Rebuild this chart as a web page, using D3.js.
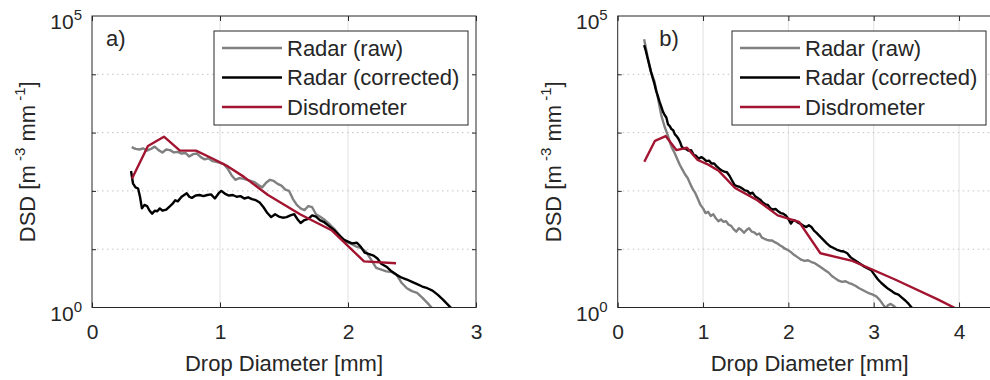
<!DOCTYPE html>
<html>
<head>
<meta charset="utf-8">
<script src="https://cdn.jsdelivr.net/npm/d3@7"></script>
<style>
  body { margin: 0; background: #fff; }
  svg text { font-family: "Liberation Sans", Arial, Helvetica, sans-serif; fill: #262626; }
</style>
</head>
<body>
<div class="chart-container"></div>
<script>
// ---- Data ----
const seriesNames = ['Radar (raw)', 'Radar (corrected)', 'Disdrometer'];
const seriesColors = ['#808080', '#000000', '#a2142f'];

const xTicksA = [0, 1, 2, 3];
const xTicksB = [0, 1, 2, 3, 4];
const yTicks = [1, 1e5];
const yMinorTicks = [10, 100, 1000, 10000];

// disdrometer bin centres [mm]
const disdroBins = [0.312, 0.437, 0.562, 0.687, 0.812, 0.937, 1.062, 1.187, 1.375, 1.625, 1.875, 2.125, 2.375, 2.75, 3.25, 3.75, 4.25];

// panel a)
const rawA_d = [0.31,0.34,0.37,0.40,0.43,0.46,0.49,0.52,0.55,0.58,0.61,0.64,0.67,0.70,0.73,0.76,0.79,0.82,0.85,0.88,
  0.91,0.94,0.97,1.00,1.03,1.06,1.09,1.12,1.15,1.18,1.21,1.24,1.27,1.30,1.33,1.36,1.39,1.42,1.45,1.48,
  1.51,1.54,1.57,1.60,1.63,1.66,1.69,1.72,1.75,1.78,1.82,1.86,1.90,1.94,1.98,2.02,2.06,2.10,2.14,2.18,
  2.22,2.26,2.30,2.34,2.38,2.42,2.46,2.50,2.54,2.58,2.62,2.66];
const rawA_n = [562,525,513,537,490,525,575,501,457,513,501,457,468,437,447,389,427,437,380,347,
  363,324,316,302,288,240,186,155,166,162,155,148,141,126,115,138,155,148,132,123,
  105,100,72.4,57.5,50.1,46.8,55.0,52.5,39.8,36.3,31.6,26.3,21.4,16.6,13.5,12.6,11.2,10.5,9.12,6.61,
  4.79,4.47,4.17,4.07,3.63,2.63,2.14,1.91,1.78,1.48,1.20,0.955];

const corrA_d = [0.305,0.32,0.34,0.36,0.375,0.39,0.41,0.43,0.45,0.47,0.49,0.51,0.53,0.55,0.58,0.61,0.63,0.65,0.67,0.70,
  0.72,0.74,0.76,0.78,0.81,0.84,0.87,0.90,0.93,0.96,0.99,1.01,1.04,1.07,1.10,1.13,1.16,1.19,1.22,1.25,
  1.28,1.31,1.34,1.37,1.40,1.43,1.46,1.49,1.52,1.55,1.58,1.61,1.63,1.66,1.69,1.72,1.75,1.78,1.81,1.85,
  1.89,1.93,1.97,2.00,2.03,2.07,2.10,2.13,2.16,2.20,2.23,2.26,2.30,2.34,2.38,2.42,2.46,2.50,2.54,2.58,
  2.62,2.66,2.70,2.74,2.78,2.81];
const corrA_n = [219,135,115,110,79.4,50.1,57.5,55.0,45.7,40.7,45.7,44.7,50.1,45.7,47.9,55.0,60.3,69.2,66.1,79.4,
  85.1,91.2,79.4,75.9,83.2,85.1,81.3,85.1,87.1,74.1,91.2,100,89.1,83.2,85.1,79.4,81.3,74.1,77.6,72.4,
  69.2,63.1,52.5,41.7,35.5,39.8,36.3,34.7,35.5,38.0,39.8,31.6,28.2,31.6,33.1,38.0,36.3,31.6,29.5,25.1,
  21.4,17.4,14.5,13.5,12.6,12.9,11.0,8.71,8.32,7.76,6.92,5.62,5.01,4.17,3.63,3.24,3.02,2.75,2.51,2.29,
  2.14,1.95,1.66,1.38,1.12,0.955];

const disdroA = [162,589,851,490,490,363,263,174,85.1,39.8,20.9,6.17,5.75];

// panel b)
const rawB_d = [0.31,0.33,0.35,0.37,0.39,0.41,0.43,0.45,0.47,0.49,0.51,0.53,0.55,0.57,0.59,0.61,0.63,0.65,0.67,
  0.70,0.73,0.76,0.79,0.82,0.85,0.88,0.91,0.94,0.97,1.00,1.03,1.06,1.09,1.12,1.15,1.18,1.21,1.24,1.27,
  1.30,1.33,1.36,1.39,1.42,1.45,1.48,1.51,1.54,1.57,1.60,1.63,1.66,1.69,1.72,1.75,1.78,1.81,1.84,1.87,
  1.90,1.93,1.96,1.99,2.03,2.07,2.11,2.15,2.19,2.23,2.27,2.31,2.35,2.39,2.43,2.47,2.51,2.55,2.59,2.63,
  2.67,2.71,2.75,2.79,2.83,2.87,2.91,2.95,2.99,3.03,3.07,3.11,3.14,3.17,3.20,3.24,3.27];
const rawB_n = [39800,28200,20000,14800,11000,9120,7590,5500,3980,2820,2000,1580,1260,1050,871,692,575,501,437,
  347,275,229,191,166,132,107,91.2,72.4,57.5,50.1,41.7,43.7,37.2,39.8,33.9,30.2,32.4,29.5,30.2,
  26.3,25.1,21.9,20.0,22.9,21.4,19.1,21.4,22.9,20.0,19.5,17.8,18.6,15.8,15.1,14.5,14.1,14.1,13.2,12.6,
  11.7,11.0,10.2,9.77,8.91,7.94,7.24,6.61,6.31,6.46,6.03,5.75,5.25,4.79,4.37,3.98,3.47,3.16,2.88,2.75,
  2.82,2.63,2.51,2.34,2.14,2.00,1.86,1.74,1.66,1.55,1.35,1.12,0.977,1.10,1.15,1.05,0.955];

const corrB_d = [0.31,0.33,0.35,0.37,0.39,0.41,0.43,0.45,0.47,0.49,0.51,0.53,0.55,0.57,0.59,0.61,0.63,0.65,0.67,0.69,
  0.71,0.73,0.75,0.77,0.80,0.83,0.86,0.89,0.92,0.95,0.98,1.01,1.04,1.07,1.10,1.13,1.16,1.19,1.22,1.25,
  1.28,1.31,1.34,1.37,1.40,1.43,1.46,1.49,1.52,1.55,1.58,1.61,1.64,1.67,1.70,1.73,1.76,1.79,1.82,1.85,
  1.88,1.91,1.94,1.97,2.00,2.03,2.06,2.09,2.12,2.15,2.18,2.21,2.24,2.27,2.30,2.33,2.37,2.41,2.45,2.49,
  2.53,2.57,2.61,2.65,2.69,2.73,2.77,2.81,2.85,2.89,2.93,2.97,3.01,3.05,3.09,3.13,3.17,3.21,3.25,3.29,
  3.33,3.37,3.41,3.45];
const corrB_n = [31600,25100,19100,14500,11000,8710,6920,5250,4270,3390,2820,2290,2000,1820,1380,1290,1150,1100,933,871,
  794,692,575,537,525,490,501,417,398,355,380,355,324,331,295,295,263,240,224,214,
  209,182,151,126,120,117,110,102,100,89.1,93.3,81.3,75.9,70.8,63.1,58.9,57.5,50.1,47.9,49.0,
  44.7,41.7,40.7,38.0,33.1,27.5,31.6,30.2,28.2,26.9,25.1,24.0,25.7,24.0,20.9,19.1,16.6,14.5,12.6,11.2,
  10.5,9.77,9.33,9.12,8.51,7.24,6.61,6.03,5.50,5.01,4.68,4.37,3.63,3.02,2.63,2.34,2.09,1.91,1.74,1.66,
  1.48,1.32,1.15,0.977];

const disdroB = [316,724,871,501,550,339,282,219,112,70.8,38.0,29.5,8.51,6.31,3.02,1.38,0.589];

// ---- Layout ----
const width = 990, height = 380;
const plotTop = 16, plotBottom = 307.5, plotW = 384;

const svg = d3.select('.chart-container')
  .append('svg')
  .attr('width', width)
  .attr('height', height);

const zip = (xs, ys) => xs.map((d, i) => ({ d: d, n: ys[i] })).filter(p => p.n !== undefined);

function drawPanel(p) {
  const xScale = d3.scaleLinear().domain(p.xDomain).range([p.left, p.left + plotW]);
  const yScale = d3.scaleLog().domain([1, 1e5]).range([plotBottom, plotTop]);

  const g = svg.append('g').attr('class', 'panel-' + p.id);

  g.append('clipPath').attr('id', 'clip-' + p.id)
    .append('rect')
    .attr('x', p.left).attr('y', plotTop)
    .attr('width', plotW).attr('height', plotBottom - plotTop);

  // grid
  g.selectAll('.vgrid')
    .data(p.xTicks.filter(t => t > p.xDomain[0] && t < p.xDomain[1]))
    .enter().append('line')
    .attr('x1', d => xScale(d)).attr('x2', d => xScale(d))
    .attr('y1', plotTop).attr('y2', plotBottom)
    .attr('stroke', '#e0e0e0').attr('stroke-width', 1);

  g.selectAll('.hgrid')
    .data(yMinorTicks)
    .enter().append('line')
    .attr('x1', p.left).attr('x2', p.left + plotW)
    .attr('y1', d => yScale(d)).attr('y2', d => yScale(d))
    .attr('stroke', '#c4c4c4').attr('stroke-width', 1)
    .attr('stroke-dasharray', '1.5,3.5');

  // series
  const line = d3.line().x(v => xScale(v.d)).y(v => yScale(v.n));
  const lines = g.append('g').attr('clip-path', `url(#clip-${p.id})`);
  p.series.forEach((s, i) => {
    lines.append('path')
      .datum(s)
      .attr('d', line)
      .attr('fill', 'none')
      .attr('stroke', seriesColors[i])
      .attr('stroke-width', 2.4)
      .attr('stroke-linejoin', 'round');
  });

  // axes (ticks pointing inward)
  const xAxis = d3.axisBottom(xScale).tickValues(p.xTicks).tickFormat(d3.format('d'))
    .tickSizeInner(-5).tickSizeOuter(0).tickPadding(17);
  const xAxisG = g.append('g').attr('transform', `translate(0,${plotBottom})`).call(xAxis);
  xAxisG.selectAll('text').attr('font-size', 21).style('fill', '#262626');

  const xTop = d3.axisTop(xScale).tickValues(p.xTicks).tickSizeInner(-5).tickSizeOuter(0).tickFormat('');
  g.append('g').attr('transform', `translate(0,${plotTop})`).call(xTop);

  const yLeft = d3.axisLeft(yScale).tickValues(yMinorTicks).tickSizeInner(-4).tickSizeOuter(0).tickFormat('');
  g.append('g').attr('transform', `translate(${p.left},0)`).call(yLeft);
  const yRight = d3.axisRight(yScale).tickValues(yMinorTicks).tickSizeInner(-4).tickSizeOuter(0).tickFormat('');
  g.append('g').attr('transform', `translate(${p.left + plotW},0)`).call(yRight);

  g.selectAll('.domain').remove();
  g.selectAll('.tick line').attr('stroke', '#262626');

  // box
  g.append('rect')
    .attr('x', p.left).attr('y', plotTop)
    .attr('width', plotW).attr('height', plotBottom - plotTop)
    .attr('fill', 'none').attr('stroke', '#262626').attr('stroke-width', 1);

  // y tick labels 10^n
  const yLab = g.selectAll('.ylab').data(yTicks).enter().append('text')
    .attr('x', p.left - 10)
    .attr('y', d => yScale(d) + 13)
    .attr('text-anchor', 'end');
  yLab.append('tspan').attr('font-size', 21).text('10');
  yLab.append('tspan').attr('font-size', 15).attr('dy', -9).text(d => Math.round(Math.log10(d)));

  // axis titles
  g.append('text')
    .attr('x', p.left + plotW / 2).attr('y', 371)
    .attr('text-anchor', 'middle').attr('font-size', 22)
    .text('Drop Diameter [mm]');

  const yTitle = g.append('text')
    .attr('transform', `translate(${p.left - 57},${(plotTop + plotBottom) / 2}) rotate(-90)`)
    .attr('text-anchor', 'middle').attr('font-size', 22);
  yTitle.append('tspan').text('DSD [m');
  yTitle.append('tspan').attr('font-size', 15).attr('dy', -10).text(' -3');
  yTitle.append('tspan').attr('dy', 10).text(' mm');
  yTitle.append('tspan').attr('font-size', 15).attr('dy', -10).text(' -1');
  yTitle.append('tspan').attr('dy', 10).text(']');

  // panel letter
  g.append('text')
    .attr('x', p.left + p.letterDx).attr('y', 45.5)
    .attr('font-size', 22)
    .text(p.id + ')');

  // legend
  const lx = p.left + p.legendDx, ly = 31;
  const legend = g.append('g').attr('class', 'legend');
  legend.append('rect')
    .attr('x', lx).attr('y', ly).attr('width', 254).attr('height', 94)
    .attr('fill', '#fff').attr('stroke', '#262626').attr('stroke-width', 1);
  const rows = legend.selectAll('.row').data(seriesNames).enter().append('g')
    .attr('transform', (d, i) => `translate(${lx},${ly + 17 + i * 29.5})`);
  rows.append('line')
    .attr('x1', 8).attr('x2', 68)
    .attr('stroke', (d, i) => seriesColors[i]).attr('stroke-width', 2.6);
  rows.append('text')
    .attr('x', 73).attr('dy', '0.36em').attr('font-size', 22)
    .text(d => d);
}

drawPanel({
  id: 'a', left: 92, xDomain: [0, 3], xTicks: xTicksA, letterDx: 14, legendDx: 122,
  series: [zip(rawA_d, rawA_n), zip(corrA_d, corrA_n), zip(disdroBins, disdroA)]
});

drawPanel({
  id: 'b', left: 617.7, xDomain: [0, 4.5], xTicks: xTicksB, letterDx: 41.5, legendDx: 114.3,
  series: [zip(rawB_d, rawB_n), zip(corrB_d, corrB_n), zip(disdroBins, disdroB)]
});
</script>
</body>
</html>
